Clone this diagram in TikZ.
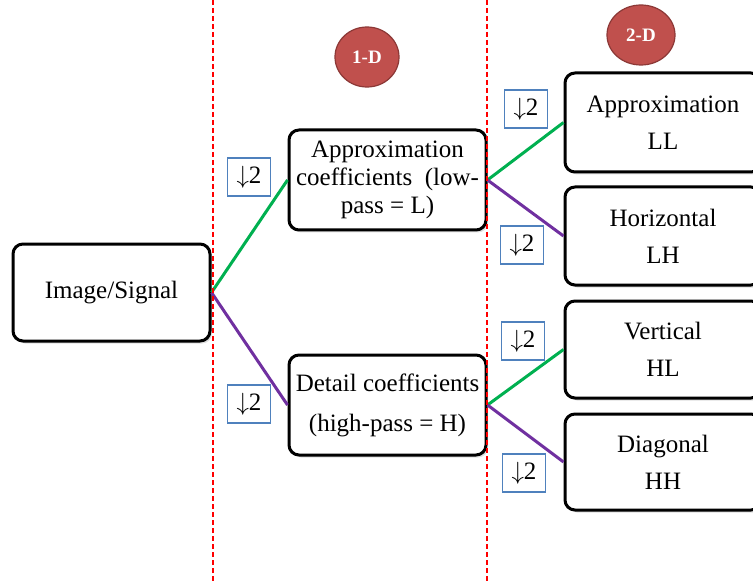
\documentclass[tikz,border=0pt]{standalone}
\usepackage{fontspec}
\setmainfont{Liberation Serif}
\usetikzlibrary{shadows,shapes.geometric}
\definecolor{dgreen}{HTML}{00B050}
\definecolor{dpurple}{HTML}{7030A0}
\definecolor{dblue}{HTML}{4F81BD}
\definecolor{dred}{HTML}{C0504D}
\definecolor{dredline}{HTML}{8C3836}
\begin{document}
\begin{tikzpicture}[x=1pt,y=-1pt,
  box/.style={draw=black, line width=3pt, rounded corners=10pt, fill=white,
    drop shadow={shadow xshift=2pt, shadow yshift=-2.5pt, opacity=0.25},
    inner sep=0pt, align=center},
  txt/.style={font=\fontsize{25}{28}\selectfont},
  down/.style={draw=dblue, line width=1.6pt, fill=white, minimum width=43pt,
    minimum height=38pt, inner sep=0pt, font=\fontsize{25}{28}\selectfont},
  badge/.style={ellipse, fill=dred, draw=dredline, line width=1.2pt, inner sep=0pt,
    text=white, font=\fontsize{19}{21}\selectfont\bfseries},
  gconn/.style={draw=dgreen, line width=3pt},
  pconn/.style={draw=dpurple, line width=3pt},
  sep/.style={draw=red, line width=1.6pt, dash pattern=on 5pt off 3pt}]
\useasboundingbox (0,0) rectangle (753,583);

\node[box, minimum width=197pt, minimum height=97pt, txt] (img) at (111.5,292.5) {Image/Signal};
\node[box, minimum width=197pt, minimum height=100pt, font=\fontsize{25}{28}\selectfont] (ac) at (387.5,180)
  {Approximation\\coefficients~~(low-\\pass = L)};
\node[box, minimum width=197pt, minimum height=100pt, font=\fontsize{25}{40}\selectfont] (dc) at (387.5,405)
  {Detail coefficients\\(high-pass = H)};

\node[box, minimum width=196pt, minimum height=99pt, font=\fontsize{25}{37}\selectfont] (LL) at (663,122.5) {Approximation\\LL};
\node[box, minimum width=196pt, minimum height=98pt, font=\fontsize{25}{37}\selectfont] (LH) at (663,236) {Horizontal\\LH};
\node[box, minimum width=196pt, minimum height=97pt, font=\fontsize{25}{37}\selectfont] (HL) at (663,349.5) {Vertical\\HL};
\node[box, minimum width=196pt, minimum height=96pt, font=\fontsize{25}{37}\selectfont] (HH) at (663,462) {Diagonal\\HH};

\draw[gconn] (img.east) -- (ac.west);
\draw[pconn] (img.east) -- (dc.west);
\draw[gconn] (ac.east) -- (LL.west);
\draw[pconn] (ac.east) -- (LH.west);
\draw[gconn] (dc.east) -- (HL.west);
\draw[pconn] (dc.east) -- (HH.west);

\node[down] (d1) at (249,177) {$\downarrow$2};
\node[down] (d2) at (249,404) {$\downarrow$2};
\node[down] (d3) at (526,109) {$\downarrow$2};
\node[down] (d4) at (522,245) {$\downarrow$2};
\node[down] (d5) at (523,341) {$\downarrow$2};
\node[down] (d6) at (524,473) {$\downarrow$2};

\node[badge, minimum width=64pt, minimum height=60pt] (b1) at (367,57) {1-D};
\node[badge, minimum width=68pt, minimum height=60pt] (b2) at (641,35) {2-D};

\coordinate (s1t) at (213,0);
\coordinate (s1b) at (213,583);
\coordinate (s2t) at (487,0);
\coordinate (s2b) at (487,583);
\draw[sep] (s1t) -- (s1b);
\draw[sep] (s2t) -- (s2b);
\end{tikzpicture}
\end{document}
